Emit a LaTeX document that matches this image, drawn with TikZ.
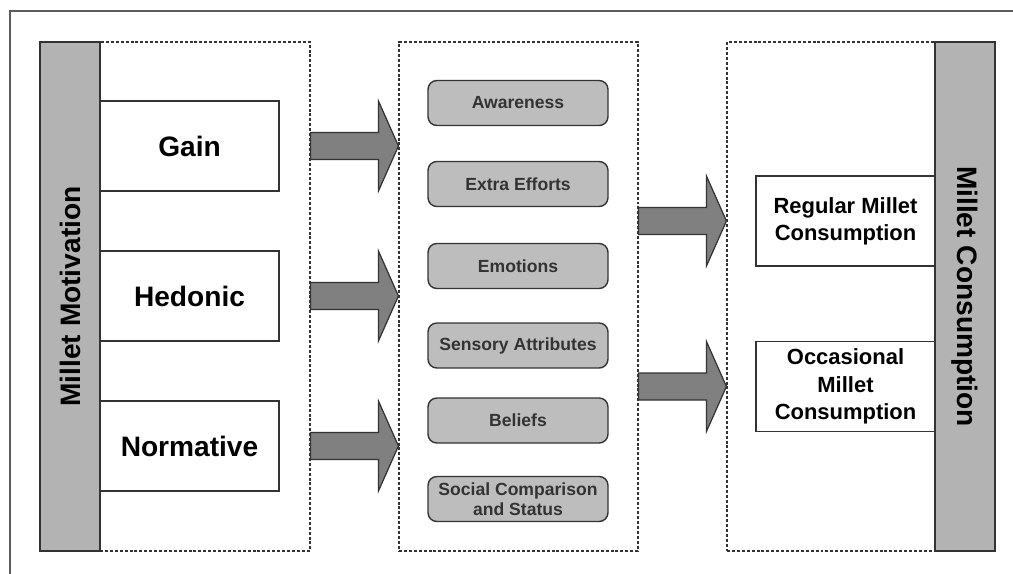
\documentclass[tikz,border=0pt]{standalone}
\usepackage{fontspec}
\setmainfont{Liberation Sans}
\usetikzlibrary{calc}
\definecolor{bargray}{HTML}{B3B3B3}
\definecolor{boxgray}{HTML}{BDBDBD}
\definecolor{arrgray}{HTML}{808080}
\definecolor{edge}{HTML}{333333}
\tikzset{
  bar/.style={draw=edge, line width=0.8pt, fill=bargray, minimum width=1.2cm,
    minimum height=10.18cm, inner sep=0pt},
  panel/.style={draw=edge, line width=0.65pt, dash pattern=on 1.7pt off 1.1pt,
    minimum width=#1, minimum height=10.18cm, inner sep=0pt},
  motive/.style={draw=edge, line width=0.8pt, fill=white, minimum width=3.58cm,
    minimum height=1.8cm, font=\fontsize{16}{19}\selectfont\bfseries},
  factor/.style={draw=edge, line width=0.8pt, fill=boxgray, rounded corners=5pt,
    minimum width=3.6cm, minimum height=0.9cm, inner sep=1pt, align=center,
    text=edge, font=\fontsize{10}{11.5}\selectfont\bfseries},
  outcome/.style={draw=edge, line width=0.8pt, fill=white, minimum width=3.58cm,
    minimum height=1.8cm, align=center, font=\fontsize{12.5}{15.5}\selectfont\bfseries},
  fatarrow/.style={draw=edge, line width=0.7pt, fill=arrgray}
}
% broad arrow from #1 to #2 (same height)
\newcommand{\fatarrow}[2]{%
  \path (#1) coordinate (ta) (#2) coordinate (tb);
  \draw[fatarrow] let \p1=(ta), \p2=(tb) in
    (\x1,\y1-0.27cm) -- (\x2-0.4cm,\y1-0.27cm) -- (\x2-0.4cm,\y1-0.9cm) -- (\x2,\y1)
    -- (\x2-0.4cm,\y1+0.9cm) -- (\x2-0.4cm,\y1+0.27cm) -- (\x1,\y1+0.27cm) -- cycle;}
\begin{document}
\begin{tikzpicture}[x=0.02cm, y=-0.02cm]
        \useasboundingbox[fill=white] (0,0) rectangle (1013,574);
        %% Frame
        \draw[edge!80, line width=0.6pt] (1013,11) -- (10,11) -- (10,574);
        %% Panels
        \node[panel=4.2cm] (leftpanel) at (205,296.5) {};
        \node[panel=4.78cm] (midpanel) at (518.5,296.5) {};
        \node[panel=4.16cm] (rightpanel) at (831,296.5) {};
        %% Bars
        \node[bar] (motiv) at (70,296.5) {};
        \node[rotate=90, font=\fontsize{16}{19}\selectfont\bfseries] (motivtext) at (motiv) {Millet Motivation};
        \node[bar] (consum) at (965,296.5) {};
        \node[rotate=-90, font=\fontsize{16}{19}\selectfont\bfseries] (consumtext) at (consum) {Millet Consumption};
        %% Motives
        \node[motive] (gain) at (189.5,146) {Gain};
        \node[motive] (hedonic) at (189.5,296) {Hedonic};
        \node[motive] (normative) at (189.5,446) {Normative};
        %% Factors
        \node[factor] (awareness) at (518,103) {Awareness};
        \node[factor] (efforts) at (518,184) {Extra Efforts};
        \node[factor] (emotions) at (518,266) {Emotions};
        \node[factor] (sensory) at (518,345.5) {Sensory Attributes};
        \node[factor] (beliefs) at (518,420.5) {Beliefs};
        \node[factor] (social) at (518,499) {Social Comparison\\and Status};
        %% Outcomes
        \node[outcome] (regular) at (845.5,221) {Regular Millet\\Consumption};
        \node[outcome] (occasional) at (845.5,386.5) {Occasional\\Millet\\Consumption};
        %% Arrows
        \foreach \m in {gain,hedonic,normative}
            \fatarrow{leftpanel.east |- \m}{midpanel.west |- \m};
        \foreach \o in {regular,occasional}
            \fatarrow{midpanel.east |- \o}{rightpanel.west |- \o};
    \end{tikzpicture}
\end{document}
